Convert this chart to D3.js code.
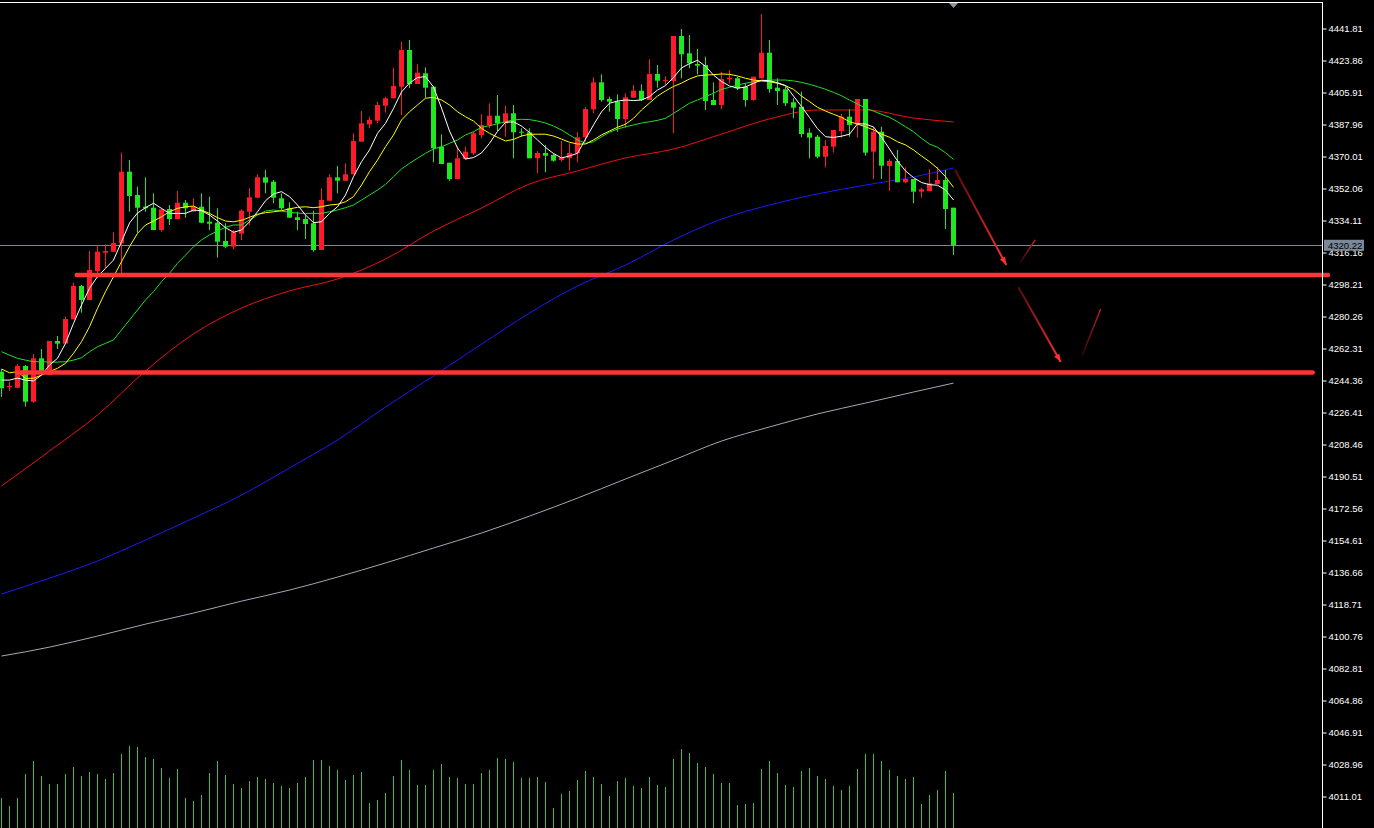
<!DOCTYPE html>
<html><head><meta charset="utf-8">
<script src="https://cdn.jsdelivr.net/npm/d3@7/dist/d3.min.js"></script>
<style>html,body{margin:0;padding:0;background:#000;overflow:hidden}</style>
</head><body><svg id="chart" width="1374" height="828"></svg>
<script>
// ---------- DATA ----------
const opens=[4249.30,4240.72,4240.32,4252.50,4232.47,4256.82,4247.45,4266.52,4265.01,4278.69,
4297.37,4289.52,4305.79,4316.05,4316.61,4321.32,4361.49,4348.42,4341.85,4341.29,
4328.78,4340.56,4334.95,4344.10,4339.05,4341.85,4333.44,4332.88,4322.61,4319.42,
4326.71,4339.05,4346.90,4358.35,4355.88,4346.56,4340.96,4335.91,4334.95,4332.55,
4317.57,4345.22,4358.35,4356.44,4360.03,4378.32,4388.08,4390.10,4398.51,4402.66,
4409.17,4429.75,4410.68,4416.68,4409.17,4375.51,4366.53,4357.39,4368.61,4371.81,
4382.07,4387.68,4392.90,4388.64,4394.25,4383.93,4383.59,4369.00,4371.98,4370.85,
4368.05,4369.00,4371.81,4380.78,4396.49,4411.63,4402.27,4400.75,4391.05,4403.00,
4406.92,4401.71,4416.29,4412.50,4412.36,4437.61,4427.90,4421.90,4421.34,4401.71,
4398.90,4413.32,4413.88,4409.17,4401.71,4413.88,4428.24,4408.61,4407.71,4400.42,
4397.95,4383.36,4381.12,4369.90,4375.51,4384.32,4392.34,4388.08,4402.27,4372.71,
4383.93,4364.68,4367.49,4355.54,4357.39,4350.27,4350.66,4354.59,4356.83,4341.29];
const highs=[4250.81,4243.69,4253.62,4253.06,4259.23,4262.03,4266.52,4269.32,4280.15,4299.22,
4297.93,4317.00,4320.37,4320.76,4327.49,4372.14,4368.05,4353.07,4358.35,4349.37,
4340.96,4342.81,4350.66,4345.61,4346.56,4349.37,4347.47,4340.96,4332.55,4328.78,
4340.40,4352.18,4360.03,4362.44,4356.83,4349.37,4344.32,4339.05,4337.20,4339.61,
4352.18,4360.03,4364.68,4366.20,4383.03,4395.54,4392.34,4400.75,4403.56,4419.82,
4434.41,4435.36,4421.73,4420.05,4409.17,4382.47,4366.53,4375.51,4375.51,4383.93,
4393.68,4399.86,4404.51,4398.51,4398.90,4385.83,4385.83,4373.10,4376.46,4371.81,
4378.71,4377.42,4383.59,4397.95,4414.44,4416.12,4403.56,4404.90,4405.46,4410.12,
4410.51,4424.54,4421.34,4415.00,4437.61,4441.53,4438.17,4430.31,4426.00,4411.63,
4417.58,4418.53,4414.78,4411.07,4414.78,4449.95,4435.36,4413.88,4409.17,4402.66,
4406.36,4385.83,4382.07,4379.27,4384.88,4393.85,4396.49,4402.27,4402.27,4386.73,
4386.73,4368.61,4373.66,4363.95,4357.39,4352.51,4363.00,4364.29,4362.44,4341.29];
const lows=[4235.11,4238.47,4240.15,4229.67,4231.91,4247.45,4247.45,4262.03,4265.01,4278.69,
4282.39,4289.52,4302.03,4307.64,4316.61,4304.50,4339.05,4327.27,4339.05,4328.78,
4327.83,4331.59,4334.95,4335.68,4339.05,4332.55,4328.78,4313.25,4318.52,4317.96,
4323.17,4331.59,4346.56,4349.37,4343.76,4340.00,4335.68,4328.78,4323.74,4316.61,
4317.57,4345.22,4349.37,4356.44,4360.03,4378.32,4385.83,4388.64,4394.58,4402.66,
4393.29,4408.27,4410.68,4403.00,4366.76,4365.81,4356.44,4357.39,4368.05,4370.85,
4380.22,4385.83,4384.32,4381.12,4369.00,4381.12,4369.00,4360.59,4361.15,4367.10,
4367.10,4362.05,4366.76,4378.32,4394.25,4400.75,4395.14,4383.93,4385.83,4403.00,
4401.15,4401.71,4408.61,4410.00,4383.03,4413.88,4419.49,4416.12,4396.10,4398.90,
4396.49,4411.07,4407.32,4397.95,4401.31,4413.88,4405.80,4398.90,4398.34,4391.44,
4380.78,4369.00,4369.00,4363.95,4372.14,4380.56,4381.12,4380.56,4370.46,4357.39,
4357.39,4350.66,4355.54,4354.98,4343.76,4346.90,4350.66,4354.59,4329.34,4314.76];
const closes=[4239.99,4241.28,4252.50,4232.47,4256.82,4249.30,4266.52,4265.01,4278.86,4297.37,
4289.52,4306.35,4316.61,4317.00,4321.49,4361.49,4347.86,4341.29,4340.96,4328.78,
4340.40,4334.95,4344.10,4340.96,4341.85,4332.88,4332.32,4322.22,4319.42,4327.49,
4339.61,4347.13,4358.35,4355.32,4346.90,4340.96,4335.68,4334.39,4332.15,4317.57,
4345.61,4358.35,4356.44,4360.03,4378.71,4388.64,4390.49,4398.90,4402.66,4409.56,
4429.75,4410.68,4417.02,4408.61,4374.61,4365.81,4357.39,4369.00,4372.71,4383.03,
4387.68,4392.90,4388.64,4394.25,4383.59,4383.36,4369.00,4371.98,4370.46,4367.66,
4369.56,4371.98,4380.78,4396.66,4411.63,4401.71,4400.75,4391.05,4403.22,4406.92,
4401.71,4416.29,4412.53,4413.00,4437.61,4427.34,4422.29,4420.95,4401.15,4398.90,
4413.49,4414.21,4408.27,4401.71,4414.78,4428.24,4407.88,4406.75,4399.86,4397.39,
4382.63,4380.56,4369.90,4375.90,4384.88,4392.34,4387.68,4402.27,4372.14,4383.93,
4364.85,4367.49,4355.54,4357.39,4350.27,4351.62,4354.98,4356.83,4340.56,4320.22];
const volumes=[30,22,30,54,67,52,44,44,54,61,52,56,54,49,55,74,82,81,71,69,
60,50,59,30,27,33,55,67,53,44,40,47,51,49,45,42,40,45,51,68,
68,62,58,48,53,56,25,28,35,52,68,58,43,43,58,64,51,50,44,44,
55,58,70,69,66,50,50,51,46,20,34,37,48,57,51,44,32,47,50,42,
40,51,43,41,69,79,75,65,61,54,45,45,23,24,25,59,67,55,43,41,
57,60,52,49,42,38,42,59,74,74,67,58,52,49,51,24,33,38,57,35];
const ma5=[4244.6,4244.6,4245.7,4244.6,4244.1,4247.4,4253.0,4256.8,4265.2,4276.4,
4286.7,4296.1,4302.6,4307.3,4311.9,4322.2,4332.7,4338.3,4341.3,4343.8,
4340.9,4338.1,4338.1,4338.1,4340.0,4339.6,4337.2,4333.8,4330.1,4327.5,
4328.8,4333.4,4339.0,4345.2,4349.0,4350.3,4347.5,4342.8,4337.2,4332.9,
4333.4,4338.1,4341.8,4348.4,4358.7,4367.1,4373.7,4383.0,4388.6,4397.0,
4406.2,4411.2,4414.3,4414.8,4409.0,4397.2,4384.3,4374.8,4368.6,4369.4,
4372.0,4377.4,4384.1,4389.1,4389.5,4387.1,4383.5,4379.3,4375.1,4371.7,
4369.2,4370.3,4371.8,4379.8,4387.7,4395.1,4399.9,4401.1,4401.7,4401.4,
4401.7,4403.6,4407.3,4409.8,4414.3,4419.7,4422.1,4424.0,4420.6,4415.7,
4412.1,4409.6,4408.3,4409.0,4411.1,4412.8,4412.5,4411.4,4409.8,4403.9,
4398.1,4391.9,4385.6,4381.1,4380.7,4381.4,4382.5,4388.4,4388.2,4386.6,
4380.9,4374.2,4367.5,4361.9,4358.2,4355.4,4354.2,4353.9,4351.2,4345.6];
const ma10=[4250.8,4248.7,4249.3,4245.6,4245.6,4247.4,4249.3,4251.2,4254.0,4259.6,
4266.1,4274.5,4284.8,4294.2,4302.6,4311.0,4319.4,4326.9,4331.6,4333.8,
4336.2,4339.0,4340.9,4341.8,4342.2,4340.0,4338.1,4335.7,4333.8,4333.4,
4334.2,4335.9,4337.6,4338.5,4339.0,4339.6,4340.6,4341.5,4341.8,4341.3,
4341.8,4342.8,4343.2,4344.6,4347.5,4354.0,4361.5,4368.0,4375.5,4382.1,
4390.5,4395.1,4398.9,4402.7,4403.2,4401.7,4398.9,4395.1,4392.3,4389.9,
4385.8,4383.0,4380.8,4378.7,4379.6,4381.5,4382.5,4382.5,4382.5,4381.5,
4379.8,4378.0,4377.0,4377.0,4379.3,4382.1,4384.3,4386.4,4388.1,4391.4,
4396.1,4400.0,4403.9,4406.8,4409.3,4411.2,4413.5,4415.2,4415.7,4415.9,
4416.3,4416.1,4415.2,4413.9,4412.9,4412.4,4412.0,4411.1,4409.7,4407.7,
4403.9,4400.8,4397.6,4395.5,4393.7,4392.0,4389.5,4388.2,4386.7,4384.9,
4382.6,4380.8,4378.3,4376.5,4373.7,4370.3,4367.1,4363.4,4358.7,4352.7];
const ma20=[4260.5,4258.6,4256.8,4255.8,4254.9,4254.9,4254.7,4254.7,4254.9,4255.8,
4257.1,4260.5,4263.3,4265.2,4267.1,4272.7,4278.3,4283.9,4289.5,4294.2,
4299.8,4304.5,4310.1,4314.7,4319.4,4323.2,4326.0,4328.2,4330.3,4331.6,
4331.6,4334.4,4337.2,4339.4,4340.0,4339.4,4338.7,4338.3,4338.1,4338.1,
4338.1,4339.0,4340.0,4341.3,4342.8,4345.6,4348.4,4351.2,4354.4,4358.7,
4363.0,4366.2,4369.0,4371.8,4374.2,4375.5,4377.4,4379.3,4382.1,4383.9,
4386.4,4387.3,4388.4,4389.5,4390.5,4390.9,4390.7,4389.9,4388.8,4387.1,
4384.9,4382.1,4379.3,4377.4,4378.3,4381.1,4383.6,4385.4,4386.7,4387.7,
4388.8,4389.5,4390.3,4391.4,4394.2,4397.0,4399.9,4401.7,4403.6,4405.5,
4407.7,4408.8,4410.1,4411.1,4412.0,4412.5,4412.9,4412.9,4412.9,4412.4,
4411.6,4410.5,4409.2,4407.7,4406.0,4404.1,4401.7,4399.5,4397.0,4395.5,
4393.7,4392.0,4389.5,4386.7,4383.9,4380.2,4377.0,4375.2,4372.1,4368.4];
// long averages, read at every 6th bar
const longIdx=[0,6,12,18,24,30,36,42,48,54,60,66,72,78,84,90,96,102,108,114,119];
const ma60=[4185.2,4204.8,4225.0,4249.7,4270.5,4285.0,4294.6,4301.3,4312.5,4328.2,4341.1,4354.6,4361.9,4369.2,4374.2,4382.6,4391.1,4396.1,4396.1,4391.6,4389.4];
const ma120=[4124.6,4133.5,4143.1,4154.9,4167.2,4180.1,4195.3,4211.0,4229.5,4246.9,4264.8,4282.2,4297.4,4309.1,4323.2,4334.9,4342.8,4349.0,4354.0,4358.5,4363.6];
const ma250=[4089.8,4094.8,4101.0,4107.7,4113.9,4120.6,4126.8,4134.1,4142.0,4150.4,4158.8,4168.3,4178.4,4189.1,4199.7,4210.4,4218.3,4225.6,4231.7,4237.9,4242.9];
const tickValues=[4441.81,4423.86,4405.91,4387.96,4370.01,4352.06,4334.11,4316.16,4298.21,4280.26,4262.31,4244.36,4226.41,4208.46,4190.51,4172.56,4154.61,4136.66,4118.71,4100.76,4082.81,4064.86,4046.91,4028.96,4011.01];
const lastPrice=4320.22;
// drawn support levels: price, bar range
const levelPrices=[4303.5,4248.9];
const levelFrom=[9.4,1.9];
const levelTo=[165.8,163.9];
// drawn arrows (bar index, price)
const arrowSegs=[
  {x1:119.2,p1:4362.4,x2:125.6,p2:4309.1,head:true},
  {x1:127.3,p1:4310.3,x2:129.2,p2:4323.2,head:false},
  {x1:127.1,p1:4296.8,x2:132.4,p2:4254.7,head:true},
  {x1:135.1,p1:4258.6,x2:137.4,p2:4284.5,head:false}
];

// ---------- SCALES ----------
const W=1374,H=828, axisX=1322;
const n=closes.length;
const x=d3.scaleLinear().domain([0,n-1]).range([1.5,1.5+8*(n-1)]);
const y=d3.scaleLinear().domain([4011.01,4441.81]).range([796.5,28.5]);
const v=d3.scaleLinear().domain([0,100]).range([H,H-100]);

const svg=d3.select('#chart');
svg.append('rect').attr('width',W).attr('height',H).attr('fill','#000');

// top border
svg.append('line').attr('x1',0).attr('x2',axisX).attr('y1',2.5).attr('y2',2.5).attr('stroke','#ffffff').attr('stroke-width',1);

// volume bars
svg.append('g').selectAll('line').data(volumes).join('line')
  .attr('x1',(d,i)=>x(i)).attr('x2',(d,i)=>x(i))
  .attr('y1',H).attr('y2',d=>v(d))
  .attr('stroke','#3cc03c').attr('stroke-width',1);

// long MAs
const lineLong=d3.line().x((d,i)=>x(longIdx[i])).y(d=>y(d)).curve(d3.curveMonotoneX);
svg.append('path').attr('d',lineLong(ma250)).attr('fill','none').attr('stroke','#a0aab8').attr('stroke-width',1);
svg.append('path').attr('d',lineLong(ma120)).attr('fill','none').attr('stroke','#1a1aff').attr('stroke-width',1);
svg.append('path').attr('d',lineLong(ma60)).attr('fill','none').attr('stroke','#f01010').attr('stroke-width',1);

// last price line
svg.append('line').attr('x1',0).attr('x2',axisX).attr('y1',Math.round(y(lastPrice))+0.5).attr('y2',Math.round(y(lastPrice))+0.5)
  .attr('stroke','#7d8896').attr('stroke-width',1);

// candles
const cg=svg.append('g');
d3.range(n).forEach(i=>{
  const up=closes[i]>=opens[i];
  const col=up?'#ff1a2a':'#1ee81e';
  cg.append('line').attr('x1',x(i)).attr('x2',x(i)).attr('y1',y(highs[i])).attr('y2',y(lows[i])).attr('stroke',col).attr('stroke-width',1);
  const top=y(Math.max(opens[i],closes[i])), bot=y(Math.min(opens[i],closes[i]));
  cg.append('rect').attr('x',x(i)-2.5).attr('width',5).attr('y',top).attr('height',Math.max(1,bot-top)).attr('fill',col);
});

// short MAs
const lineS=d3.line().x((d,i)=>x(i)).y(d=>y(d));
svg.append('path').attr('d',lineS(ma20)).attr('fill','none').attr('stroke','#22e022').attr('stroke-width',1);
svg.append('path').attr('d',lineS(ma10)).attr('fill','none').attr('stroke','#ffff00').attr('stroke-width',1);
svg.append('path').attr('d',lineS(ma5)).attr('fill','none').attr('stroke','#ffffff').attr('stroke-width',1);

// support levels
levelPrices.forEach((p,k)=>{
  svg.append('line').attr('x1',x(levelFrom[k])).attr('x2',x(levelTo[k])).attr('y1',y(p)).attr('y2',y(p))
    .attr('stroke','#ff3434').attr('stroke-width',4.5).attr('stroke-linecap','round');
});

// arrows
const defs=svg.append('defs');
arrowSegs.forEach((a,k)=>{
  const X1=x(a.x1),Y1=y(a.p1),X2=x(a.x2),Y2=y(a.p2);
  const g=defs.append('linearGradient').attr('id','ag'+k).attr('gradientUnits','userSpaceOnUse')
    .attr('x1',X1).attr('y1',Y1).attr('x2',X2).attr('y2',Y2);
  g.append('stop').attr('offset',0).attr('stop-color',a.head?'#5a0a0a':'#300505');
  g.append('stop').attr('offset',1).attr('stop-color',a.head?'#ff3030':'#c02020');
  svg.append('line').attr('x1',X1).attr('y1',Y1).attr('x2',X2).attr('y2',Y2)
    .attr('stroke','url(#ag'+k+')').attr('stroke-width',a.head?2:1.5);
  if(a.head){
    const ang=Math.atan2(Y2-Y1,X2-X1), L=8, Wd=3;
    const bx=X2-L*Math.cos(ang), by=Y2-L*Math.sin(ang);
    const px=-Math.sin(ang)*Wd, py=Math.cos(ang)*Wd;
    svg.append('path').attr('d',`M${X2},${Y2}L${bx+px},${by+py}L${bx-px},${by-py}Z`).attr('fill','#ff3030');
  }
});

// right axis
svg.append('line').attr('x1',axisX+0.5).attr('x2',axisX+0.5).attr('y1',2).attr('y2',H).attr('stroke','#ffffff').attr('stroke-width',1);
const ax=svg.append('g').attr('transform',`translate(${axisX+0.5},0)`)
  .call(d3.axisRight(y).tickValues(tickValues).tickSize(4).tickPadding(2).tickFormat(d3.format('.2f')));
ax.select('.domain').remove();
ax.selectAll('line').attr('stroke','#ffffff');
ax.selectAll('text').attr('fill','#ffffff').style('font-family','"Liberation Sans", Arial, sans-serif').style('font-size','9.5px');

// last price label
const ly=y(lastPrice);
svg.append('rect').attr('x',axisX+2).attr('y',ly-5.5).attr('width',40).attr('height',11).attr('fill','#7a8898');
svg.append('text').attr('x',axisX+6).attr('y',ly).attr('dy','0.35em').text(d3.format('.2f')(lastPrice))
  .attr('fill','#000').style('font-family','"Liberation Sans", Arial, sans-serif').style('font-size','9.5px');

// last-bar marker triangle
const tx=x(n-1);
svg.append('path').attr('d',`M${tx-4.5},3L${tx+4.5},3L${tx},8Z`).attr('fill','#8d99a8');
</script></body></html>
